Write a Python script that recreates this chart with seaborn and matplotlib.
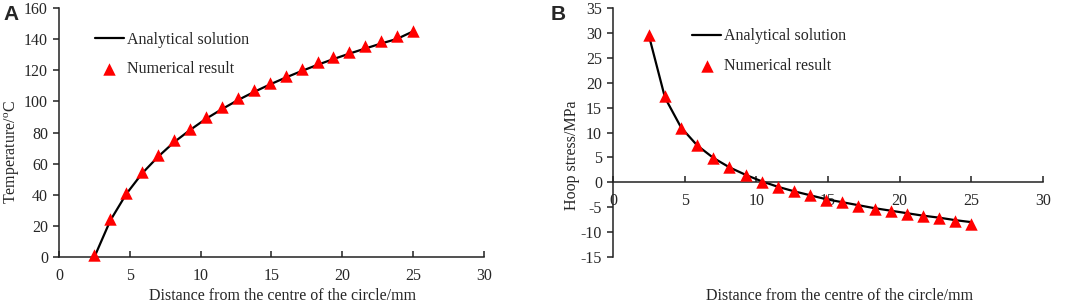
import numpy as np
import pandas as pd
import seaborn as sns
import matplotlib.pyplot as plt

# radial positions of the numerical nodes (mm)
distance = [2.5, 3.625, 4.75, 5.875, 7.0, 8.125, 9.25, 10.375, 11.5, 12.625, 13.75,
            14.875, 16.0, 17.125, 18.25, 19.375, 20.5, 21.625, 22.75, 23.875, 25.0]

# panel A: temperature
temp_analytical = [0, 23.5, 40.5, 53.8, 64.5, 73.8, 81.6, 88.8, 95.0, 100.8, 106.0,
                   110.8, 115.3, 119.5, 123.5, 127.2, 130.7, 134.0, 137.2, 140.2, 145.0]
temp_numerical = [1, 24.5, 41, 54.5, 65.5, 75, 82.5, 90, 96.5, 102, 107.5,
                  112, 116.5, 121, 125, 128.5, 132, 135.5, 139, 142, 145]

# panel B: hoop stress
stress_analytical = [29.5, 17.0, 11.0, 7.4, 4.9, 3.0, 1.5, 0.2, -0.9, -1.8, -2.6,
                     -3.4, -4.0, -4.6, -5.2, -5.7, -6.2, -6.7, -7.1, -7.6, -8.0]
stress_numerical = [29.5, 17.3, 11.0, 7.4, 4.9, 3.0, 1.5, 0.1, -0.9, -1.8, -2.6,
                    -3.5, -4.0, -4.7, -5.3, -5.8, -6.3, -6.8, -7.2, -7.7, -8.3]

df_a = pd.DataFrame({'x': distance, 'ana': temp_analytical, 'num': temp_numerical})
df_b = pd.DataFrame({'x': distance, 'ana': stress_analytical, 'num': stress_numerical})

sns.set_style("ticks")
plt.rcParams['font.family'] = ['Liberation Serif', 'DejaVu Serif']
plt.rcParams['mathtext.fontset'] = 'custom'
plt.rcParams['mathtext.rm'] = 'Liberation Serif'
plt.rcParams['axes.unicode_minus'] = False

fig = plt.figure(figsize=(10.65, 3.04), dpi=100)
ax_a = fig.add_axes([0.0554, 0.1546, 0.399, 0.819])
ax_b = fig.add_axes([0.5756, 0.1546, 0.4038, 0.819])

FS = 11.5
axis_col = '#222222'


def draw(ax, df, ylabel, xlab_x, ylab_x, ylab_y, leg_x, leg_y):
    sns.lineplot(data=df, x='x', y='ana', ax=ax, color='black', linewidth=1.6,
                 label='Analytical solution')
    sns.scatterplot(data=df, x='x', y='num', ax=ax, color='red', marker='^', s=80,
                    edgecolor='red', linewidth=0, label='Numerical result', zorder=3,
                    clip_on=False)
    ax.set_xlim(0, 30)
    ax.set_xticks(range(0, 31, 5))
    for s in ['top', 'right']:
        ax.spines[s].set_visible(False)
    for s in ['left', 'bottom']:
        ax.spines[s].set_color(axis_col)
        ax.spines[s].set_linewidth(1.1)
    ax.tick_params(axis='x', direction='in', length=4, width=1.1, color=axis_col,
                   labelsize=FS, pad=8)
    ax.tick_params(axis='y', direction='out', length=4, width=1.1, color=axis_col,
                   labelsize=FS, pad=4)
    ax.set_xlabel('Distance from the centre of the circle/mm', fontsize=FS)
    ax.set_ylabel(ylabel, fontsize=FS)
    ax.xaxis.set_label_coords(xlab_x, -0.125)
    ax.yaxis.set_label_coords(ylab_x, ylab_y)
    ax.legend(loc='upper left', bbox_to_anchor=(leg_x, leg_y), frameon=False,
              fontsize=FS, handlelength=1.8, handletextpad=0.2, labelspacing=0.85,
              borderpad=0, borderaxespad=0)


draw(ax_a, df_a, r'Temperature/$^{\mathrm{o}}$C', 0.525, -0.088, 0.42, 0.085, 0.905)
ax_a.set_ylim(0, 160)
ax_a.set_yticks(range(0, 161, 20))

draw(ax_b, df_b, 'Hoop stress/MPa', 0.526, -0.077, 0.41, 0.184, 0.919)
ax_b.set_ylim(-15, 35)
ax_b.set_yticks(range(-15, 36, 5))
ax_b.spines['bottom'].set_position(('data', 0))

fig.text(0.003, 0.985, 'A', fontsize=15, fontweight='bold', family='Liberation Sans',
         va='top', ha='left')
fig.text(0.517, 0.985, 'B', fontsize=15, fontweight='bold', family='Liberation Sans',
         va='top', ha='left')

plt.savefig('out.png', dpi=100)
plt.close()
